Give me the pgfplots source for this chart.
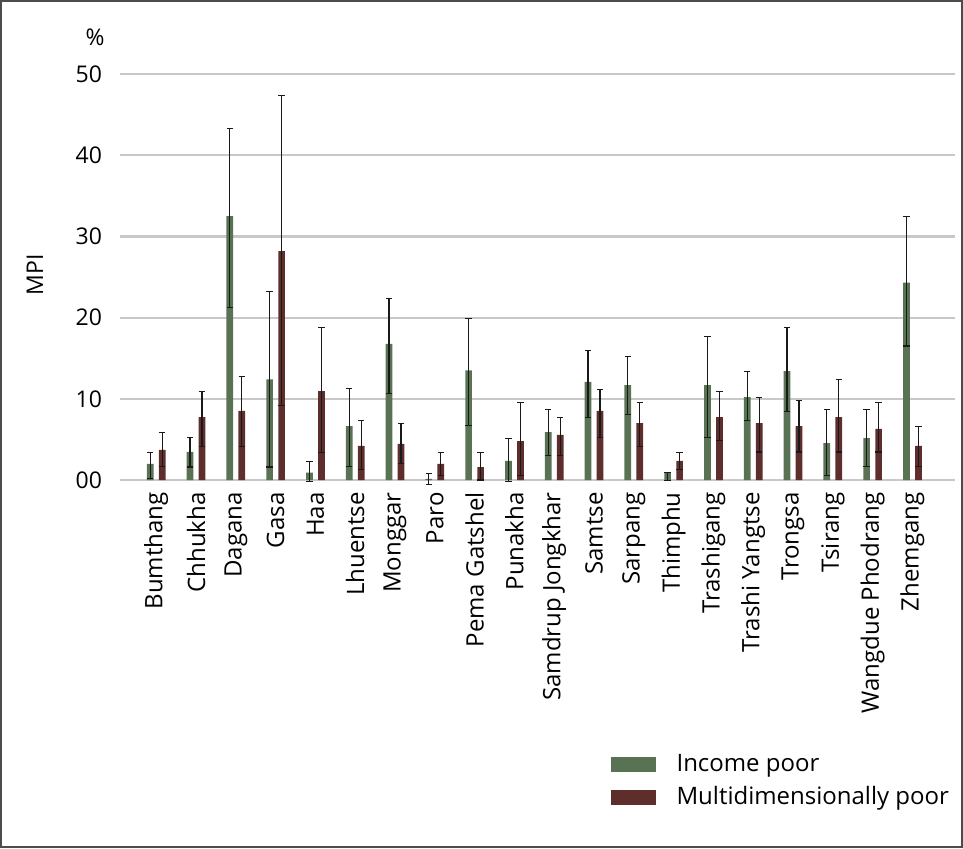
\documentclass[border=0pt]{standalone}
\usepackage{pgfplots}
\pgfplotsset{compat=1.18}
\usepackage{fontspec}
\setmainfont{Open Sans}
\definecolor{incg}{HTML}{587253}
\definecolor{mdr}{HTML}{5E2E2C}
\definecolor{gridc}{HTML}{C8C8C8}
\begin{document}
\begin{tikzpicture}
\useasboundingbox (0,0) rectangle (481.5pt,424pt);
\draw[line width=0.6pt, black!70] (0.5pt,0.5pt) rectangle (481pt,423.5pt);
\begin{axis}[
  at={(60pt,184pt)}, anchor=south west,
  scale only axis, width=417.5pt, height=203pt,
  font=\fontsize{12}{14}\selectfont,
  ybar, bar width=3.35pt,
  xmin=-0.91, xmax=20.07, ymin=0, ymax=50,
  clip=false,
  axis line style={draw=none},
  major tick length=0pt,
  ymajorgrids, grid style={gridc, line width=1.1pt},
  ytick={0,10,20,30,40,50},
  yticklabels={00,10,20,30,40,50},
  yticklabel style={xshift=-5.5pt, font=\fontsize{11.5}{13}\selectfont},
  xtick={0,...,19},
  xticklabels={Bumthang,Chhukha,Dagana,Gasa,Haa,Lhuentse,Monggar,Paro,Pema Gatshel,Punakha,Samdrup Jongkhar,Samtse,Sarpang,Thimphu,Trashigang,Trashi Yangtse,Trongsa,Tsirang,Wangdue Phodrang,Zhemgang},
  xticklabel style={rotate=90, anchor=east, inner sep=0pt},
  xticklabel shift=6pt,
  legend style={at={(0.587,-0.665)}, anchor=north west, draw=none, fill=none, inner sep=0pt,
    row sep=2pt, font=\fontsize{12}{14}\selectfont,
    /tikz/every odd column/.append style={column sep=8.5pt}},
  legend cell align=left,
  legend image code/.code={\fill[#1,draw=none] (0pt,-3.75pt) rectangle (22.5pt,3.75pt);},
  error bars/y dir=both, error bars/y explicit,
  error bars/error bar style={line width=0.55pt, black!90},
  error bars/error mark options={line width=0.55pt, black!90, mark size=1.6pt, rotate=90},
]
\addplot[fill=incg, draw=none, bar shift=-3pt] coordinates {
 (0,2.0) += (0,1.4) -= (0,1.8)
 (1,3.45) += (0,1.75) -= (0,1.85)
 (2,32.5) += (0,10.8) -= (0,11.2)
 (3,12.4) += (0,10.8) -= (0,10.8)
 (4,0.9) += (0,1.35) -= (0,1.1)
 (5,6.65) += (0,4.6) -= (0,5.0)
 (6,16.75) += (0,5.65) -= (0,6.05)
 (7,0.15) += (0,0.65) -= (0,0.65)
 (8,13.5) += (0,6.4) -= (0,6.8)
 (9,2.35) += (0,2.75) -= (0,2.5)
 (10,5.9) += (0,2.8) -= (0,2.9)
 (11,12.1) += (0,3.8) -= (0,4.4)
 (12,11.7) += (0,3.5) -= (0,3.6)
 (13,0.9) += (0,0.05) -= (0,0.95)
 (14,11.7) += (0,6.0) -= (0,6.5)
 (15,10.2) += (0,3.2) -= (0,2.85)
 (16,13.4) += (0,5.4) -= (0,4.95)
 (17,4.55) += (0,4.15) -= (0,3.95)
 (18,5.15) += (0,3.55) -= (0,3.5)
 (19,24.3) += (0,8.2) -= (0,7.8)
};
\addlegendentry{Income poor}
\addplot[fill=mdr, draw=none, bar shift=3pt] coordinates {
 (0,3.7) += (0,2.2) -= (0,2.05)
 (1,7.75) += (0,3.15) -= (0,3.65)
 (2,8.5) += (0,4.2) -= (0,4.4)
 (3,28.2) += (0,19.1) -= (0,19.0)
 (4,10.95) += (0,7.85) -= (0,7.55)
 (5,4.2) += (0,3.1) -= (0,2.9)
 (6,4.45) += (0,2.55) -= (0,2.45)
 (7,2.0) += (0,1.35) -= (0,1.4)
 (8,1.6) += (0,1.8) -= (0,1.6)
 (9,4.8) += (0,4.7) -= (0,4.2)
 (10,5.55) += (0,2.15) -= (0,2.55)
 (11,8.5) += (0,2.7) -= (0,3.25)
 (12,7.0) += (0,2.5) -= (0,2.9)
 (13,2.35) += (0,1.05) -= (0,1.05)
 (14,7.75) += (0,3.15) -= (0,2.85)
 (15,7.0) += (0,3.2) -= (0,3.55)
 (16,6.65) += (0,3.15) -= (0,3.2)
 (17,7.75) += (0,4.6) -= (0,4.3)
 (18,6.3) += (0,3.2) -= (0,2.85)
 (19,4.2) += (0,2.4) -= (0,2.5)
};
\addlegendentry{Multidimensionally poor}
\end{axis}
\node[font=\fontsize{11.5}{13}\selectfont] at (47.5pt,405.5pt) {\%};
\node[font=\fontsize{11.5}{13}\selectfont, rotate=90] at (17.5pt,286.5pt) {MPI};
\end{tikzpicture}
\end{document}
